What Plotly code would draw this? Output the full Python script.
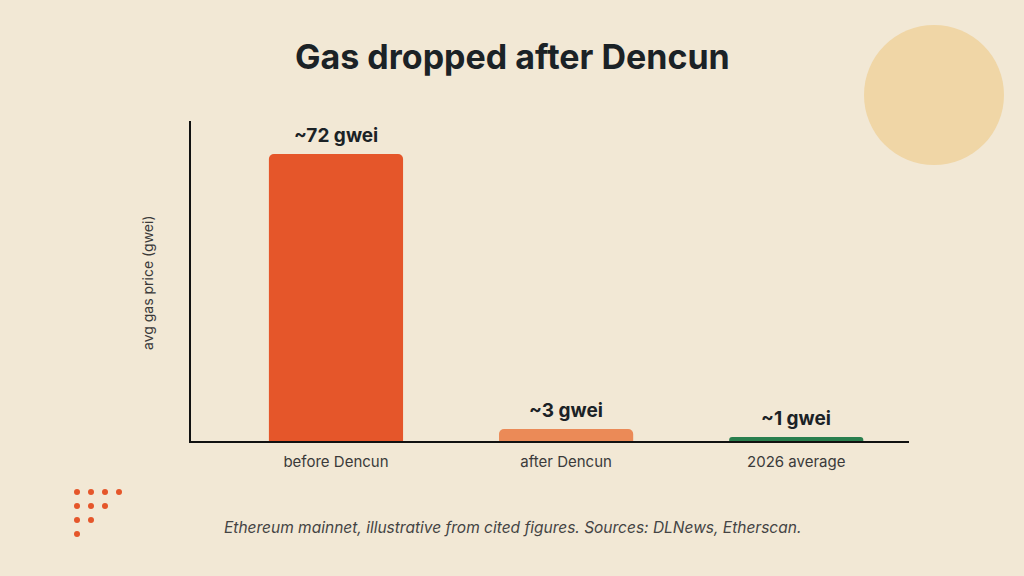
import plotly.graph_objects as go

categories = ["before Dencun", "after Dencun", "2026 average"]
values = [72, 3, 1]
labels = ["~72 gwei", "~3 gwei", "~1 gwei"]
colors = ["#E5562A", "#EB8A57", "#2A7F4E"]

W, H = 1024, 576
L, R, T, B = 191, 909, 121, 441

def px(x):
    return (x - L) / (R - L)

def py(y):
    return (B - y) / (B - T)

BG = "#F2E8D5"
FONT = "Inter, Roboto, sans-serif"

fig = go.Figure()
fig.add_trace(go.Bar(
    x=list(range(len(categories))), y=values,
    marker=dict(color=colors, line=dict(width=0)),
    width=0.583, hoverinfo="skip",
))

for i, (v, lab) in enumerate(zip(values, labels)):
    fig.add_annotation(x=i, y=v, text=f"<b>{lab}</b>", showarrow=False,
                       yanchor="bottom", yshift=5,
                       font=dict(family=FONT, size=19, color="#1B2226"))

shapes = []
# decorative circle
shapes.append(dict(type="circle", xref="paper", yref="paper",
                   x0=px(864), x1=px(1004), y0=py(165), y1=py(25),
                   fillcolor="#F0D6A6", line=dict(width=0), layer="below"))
# dot grid
dot_rows = [4, 3, 2, 1]
for r, n in enumerate(dot_rows):
    for c in range(n):
        cx, cy = 77 + 14 * c, 492 + 14 * r
        shapes.append(dict(type="circle", xref="paper", yref="paper",
                           x0=px(cx - 3), x1=px(cx + 3), y0=py(cy + 3), y1=py(cy - 3),
                           fillcolor="#E5562A", line=dict(width=0)))

fig.add_annotation(x=px(512), xref="paper", y=py(56), yref="paper",
                   xanchor="center", yanchor="middle",
                   text="<b>Gas dropped after Dencun</b>", showarrow=False,
                   font=dict(family=FONT, size=34, color="#1B2226"))
fig.add_annotation(x=px(147), xref="paper", y=py(283), yref="paper",
                   xanchor="center", yanchor="middle",
                   text="avg gas price (gwei)", textangle=-90, showarrow=False,
                   font=dict(family=FONT, size=14, color="#3A3A3A"))
fig.add_annotation(x=px(512), xref="paper", y=py(527), yref="paper",
                   xanchor="center", yanchor="middle",
                   text="<i>Ethereum mainnet, illustrative from cited figures. Sources: DLNews, Etherscan.</i>",
                   showarrow=False,
                   font=dict(family=FONT, size=15.5, color="#444444"))

fig.update_layout(
    width=W, height=H,
    margin=dict(l=L, r=W - R, t=T, b=H - B, pad=0),
    paper_bgcolor=BG, plot_bgcolor=BG,
    showlegend=False,
    barcornerradius=5,
    shapes=shapes,
    xaxis=dict(range=[-0.63, 2.49], tickvals=list(range(len(categories))), ticktext=categories,
               showgrid=False, zeroline=False, showline=True, linecolor="#111111", linewidth=2,
               ticks="", ticklabelstandoff=6,
               tickfont=dict(family=FONT, size=15, color="#3A3A3A"), fixedrange=True),
    yaxis=dict(range=[0, 80.3], showgrid=False, zeroline=False, showline=True,
               linecolor="#111111", linewidth=2, showticklabels=False, ticks="", fixedrange=True),
)

fig.write_html("out.html", config={"displayModeBar": False})
